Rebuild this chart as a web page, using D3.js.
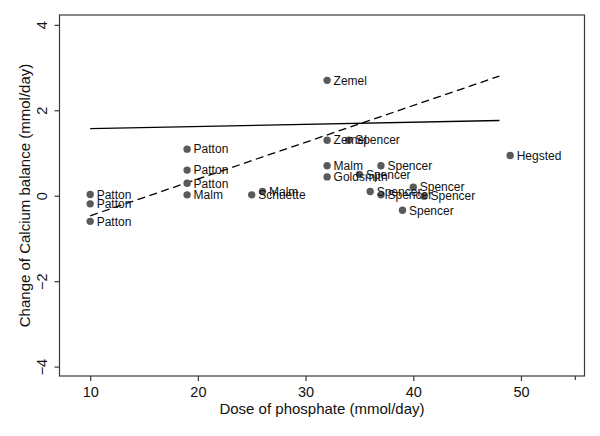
<!DOCTYPE html>
<html><head><meta charset="utf-8">
<script src="https://cdn.jsdelivr.net/npm/d3@7"></script>
<style>
body{margin:0;background:#fff;}
text{font-family:"Liberation Sans",Arial,Helvetica,sans-serif;}
</style>
</head><body>
<svg id="chart" width="600" height="436"></svg>
<script>
// ---- data ----
const studies = ["Patton","Patton","Patton","Patton","Patton","Patton","Malm","Schuette","Malm",
  "Zemel","Zemel","Spencer","Malm","Goldsmith","Spencer","Spencer","Spencer","Spencer",
  "Spencer","Spencer","Spencer","Hegsted"];
const dose = [10,10,10,19,19,19,19,25,26,32,32,34,32,32,35,37,36,37,40,41,39,49];
const change = [0.03,-0.19,-0.6,1.09,0.6,0.29,0.02,0.02,0.1,2.7,1.3,1.3,0.7,0.44,0.5,0.7,0.1,0.02,0.2,-0.01,-0.34,0.94];
const solidLineX = [10,48];
const solidLineY = [1.57,1.76];
const dashLineX = [10,48];
const dashLineY = [-0.47,2.8];
const xTicks = [10,20,30,40,50];
const xMinorTicks = [55];
const yTicks = [-4,-2,0,2,4];
const xTitle = "Dose of phosphate (mmol/day)";
const yTitle = "Change of Calcium balance (mmol/day)";

// ---- layout ----
const L=59.5, R=584.5, T=15, B=376;
const svg = d3.select("#chart");
const x = d3.scaleLinear().domain([7.15,55.9]).range([L,R]);
const y = d3.scaleLinear().domain([-4.22,4.23]).range([B,T]);
const frameColor = "#3a3a3a";

// frame
svg.append("rect").attr("x",L).attr("y",T).attr("width",R-L).attr("height",B-T)
  .attr("fill","none").attr("stroke",frameColor).attr("stroke-width",1.2);

// x axis
const gx = svg.append("g").attr("transform",`translate(0,${B})`)
  .call(d3.axisBottom(x).tickValues(xTicks).tickSize(5).tickPadding(5.5).tickFormat(d3.format("d")));
gx.select(".domain").remove();
gx.selectAll("line").attr("stroke",frameColor).attr("stroke-width",1.2);
gx.selectAll("text").attr("font-size",14.5).attr("fill","#111").attr("font-family","Liberation Sans, Arial, sans-serif");
const gxm = svg.append("g").attr("transform",`translate(0,${B})`)
  .call(d3.axisBottom(x).tickValues(xMinorTicks).tickSize(4).tickFormat(""));
gxm.select(".domain").remove();
gxm.selectAll("line").attr("stroke",frameColor).attr("stroke-width",1.2);

// y axis
const gy = svg.append("g").attr("transform",`translate(${L},0)`)
  .call(d3.axisLeft(y).tickValues(yTicks).tickSize(5).tickFormat(d=>d<0?"\u2212"+Math.abs(d):String(d)));
gy.select(".domain").remove();
gy.selectAll("line").attr("stroke",frameColor).attr("stroke-width",1.2);
gy.selectAll("text").attr("font-size",14.5).attr("fill","#111")
  .attr("font-family","Liberation Sans, Arial, sans-serif")
  .attr("transform","rotate(-90)").attr("x",0).attr("y",-13).attr("dy",0)
  .attr("text-anchor","middle");

// titles
svg.append("text").attr("x",(L+R)/2).attr("y",414).attr("text-anchor","middle")
  .attr("font-size",15).attr("fill","#111").text(xTitle);
svg.append("text").attr("transform",`translate(30,${(T+B)/2}) rotate(-90)`)
  .attr("text-anchor","middle").attr("font-size",15).attr("fill","#111").text(yTitle);

// fit lines
const line = d3.line().x(d=>x(d[0])).y(d=>y(d[1]));
svg.append("path").attr("d",line(d3.zip(solidLineX,solidLineY)))
  .attr("fill","none").attr("stroke","#000").attr("stroke-width",1.3);
svg.append("path").attr("d",line(d3.zip(dashLineX,dashLineY)))
  .attr("fill","none").attr("stroke","#000").attr("stroke-width",1.3).attr("stroke-dasharray","8,4.5");

// points
const pts = d3.range(dose.length).map(i=>({s:studies[i],x:dose[i],y:change[i]}));
svg.append("g").selectAll("circle").data(pts).join("circle")
  .attr("cx",d=>x(d.x)).attr("cy",d=>y(d.y)).attr("r",3.7).attr("fill","#5a5a5a");
svg.append("g").selectAll("text").data(pts).join("text")
  .attr("x",d=>x(d.x)+6.5).attr("y",d=>y(d.y)).attr("dy","0.36em")
  .attr("font-size",12).attr("fill","#111").text(d=>d.s);
</script>
</body></html>
